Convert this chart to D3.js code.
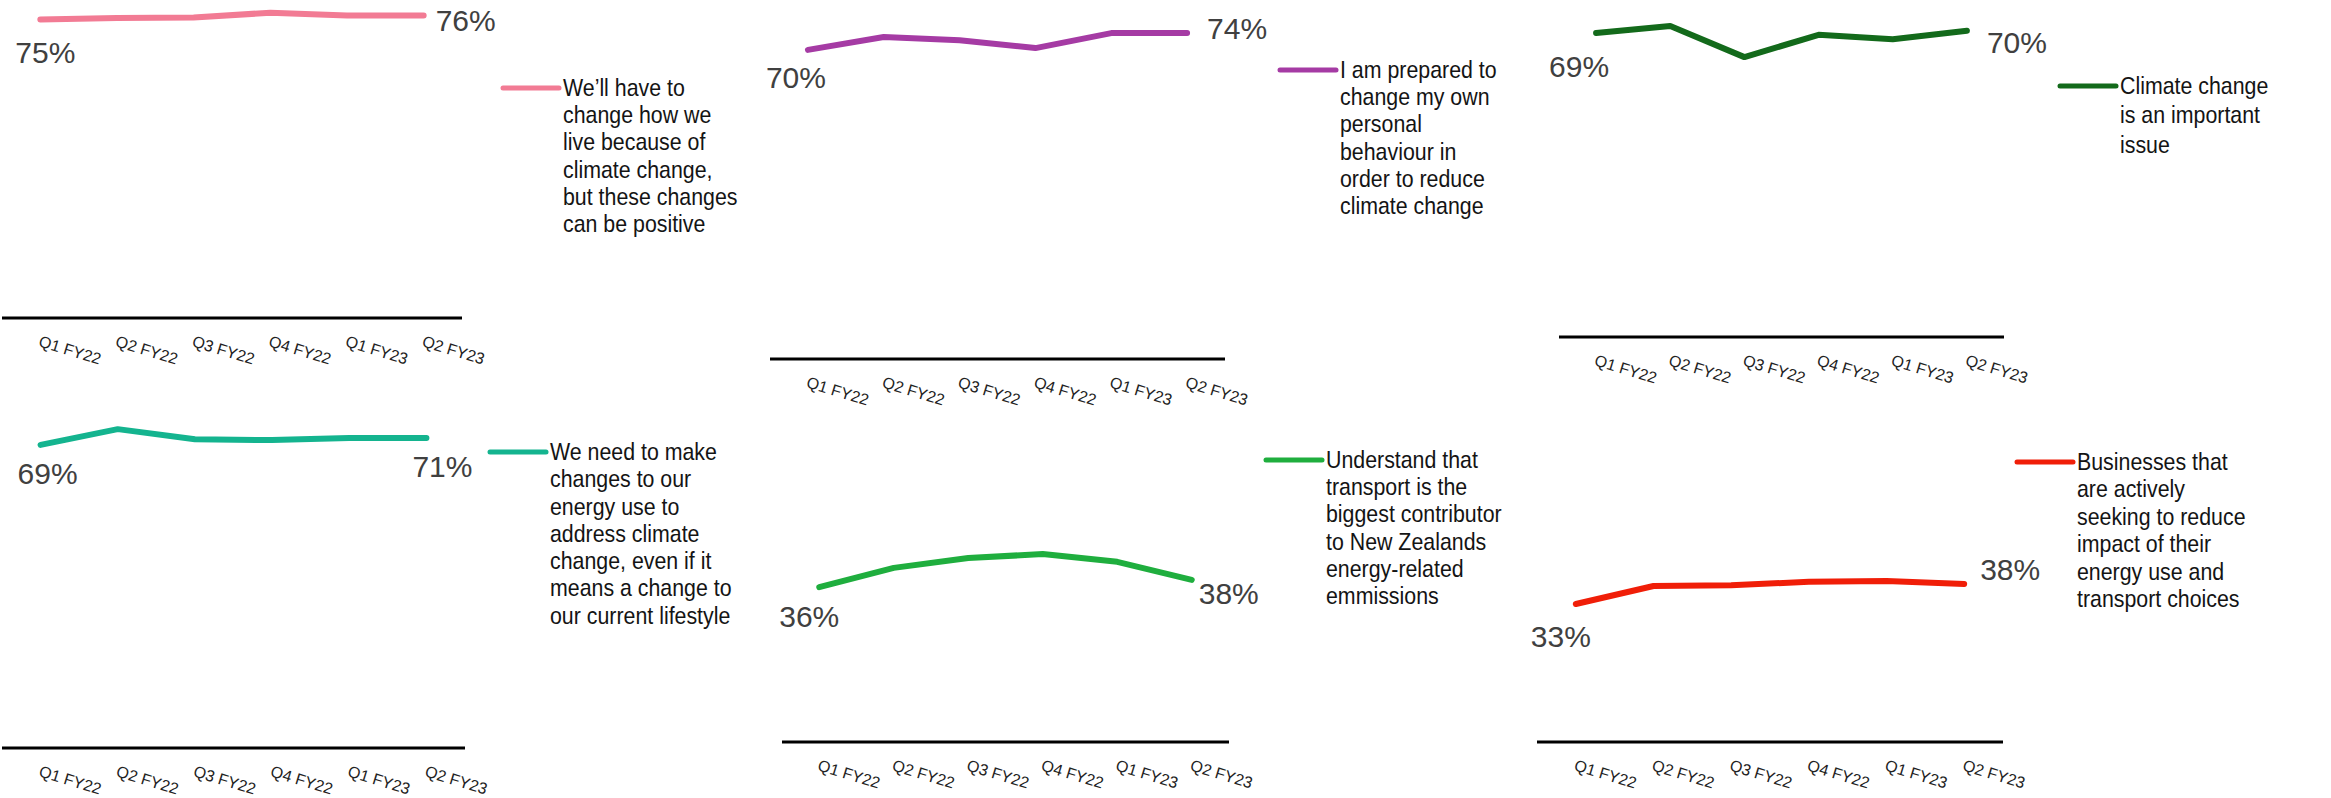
<!DOCTYPE html>
<html>
<head>
<meta charset="utf-8">
<script src="https://cdn.jsdelivr.net/npm/d3@7"></script>
<style>
  body { margin: 0; background: #fff; }
  svg { display: block; }
  .tick-label { font-family: "Liberation Sans", Arial, sans-serif; font-size: 16px; fill: #222; }
  .pct { font-family: "Liberation Sans", Arial, sans-serif; font-size: 30px; fill: #404040; }
  .legend-text { font-family: "Liberation Sans", Arial, sans-serif; font-size: 24px; fill: #141414; }
</style>
</head>
<body>
<div class="chart"></div>
<script>
// DATA ------------------------------------**
const quarters = ['Q1 FY22', 'Q2 FY22', 'Q3 FY22', 'Q4 FY22', 'Q1 FY23', 'Q2 FY23'];

const haveToChange = [75.0, 75.4, 75.5, 76.7, 76.0, 76.0];
const preparedToChange = [70.1, 73.0, 72.3, 70.5, 73.9, 73.9];
const importantIssue = [69.4, 71.0, 63.9, 69.0, 68.0, 69.9];
const energyUse = [69.2, 72.8, 70.5, 70.3, 70.8, 70.8];
const transportContributor = [36.0, 40.5, 42.8, 43.7, 41.9, 37.7];
const businessesReducing = [33.1, 37.4, 37.6, 38.4, 38.6, 37.9];

const legendLabels = [
  ['We\u2019ll have to', 'change how we', 'live because of', 'climate change,', 'but these changes', 'can be positive'],
  ['I am prepared to', 'change my own', 'personal', 'behaviour in', 'order to reduce', 'climate change'],
  ['Climate change', 'is an important', 'issue'],
  ['We need to make', 'changes to our', 'energy use to', 'address climate', 'change, even if it', 'means a change to', 'our current lifestyle'],
  ['Understand that', 'transport is the', 'biggest contributor', 'to New Zealands', 'energy-related', 'emmissions'],
  ['Businesses that', 'are actively', 'seeking to reduce', 'impact of their', 'energy use and', 'transport choices']
];

const seriesColors = ['#f27b94', '#a53ba4', '#136a1b', '#14b48f', '#1fae3e', '#f01e08'];
const seriesValues = [haveToChange, preparedToChange, importantIssue, energyUse, transportContributor, businessesReducing];

// LAYOUT (per small multiple) -------------**
const panels = [
  {x0: 2, x1: 462, axisY: 318, k: 3.98, start: [5, 43], end: [12, 15], lx: 503, ly: 88, lh: 27.2},
  {x0: 770, x1: 1225, axisY: 359, k: 4.41, start: [-12, 38], end: [20, 6], lx: 1280, ly: 70, lh: 27.2},
  {x0: 1559, x1: 2004, axisY: 337, k: 4.38, start: [-17, 44], end: [20, 22], lx: 2060, ly: 86, lh: 29.5},
  {x0: 2, x1: 465, axisY: 748, k: 4.38, start: [7, 39], end: [-14, 39], lx: 490, ly: 452, lh: 27.3},
  {x0: 782, x1: 1229, axisY: 742, k: 4.3, start: [-10, 40], end: [7, 24], lx: 1266, ly: 460, lh: 27.2},
  {x0: 1537, x1: 2003, axisY: 742, k: 4.17, start: [-15, 43], end: [16, -4], lx: 2017, ly: 462, lh: 27.4}
];

const width = 2331;
const height = 798;

const svg = d3.select('.chart').append('svg')
    .attr('width', width)
    .attr('height', height);

const fmt = d3.format('.0f');

panels.forEach(function(p, i) {
    const values = seriesValues[i];
    const color = seriesColors[i];
    const g = svg.append('g').attr('class', 'panel');

    let xScale = d3.scalePoint()
        .domain(quarters)
        .range([p.x0, p.x1])
        .padding(0.5);

    let yScale = d3.scaleLinear()
        .domain([0, 80])
        .range([p.axisY, p.axisY - 80 * p.k]);

    // axis line with rotated category labels
    let xAxis = d3.axisBottom(xScale).tickSize(0).tickPadding(0);
    let xAxisGroup = g.append('g')
        .attr('class', 'axis x-axis')
        .attr('transform', 'translate(0,' + p.axisY + ')')
        .call(xAxis);

    xAxisGroup.select('.domain')
        .attr('d', 'M' + p.x0 + ',0H' + p.x1)
        .attr('stroke', '#000')
        .attr('stroke-width', 3);

    xAxisGroup.selectAll('.tick text')
        .attr('class', 'tick-label')
        .attr('text-anchor', 'start')
        .attr('x', 0)
        .attr('y', 0)
        .attr('dy', null)
        .attr('transform', 'translate(-3,28) rotate(17)')
        .attr('fill', null)
        .attr('font-family', null)
        .attr('font-size', null);

    // series line
    const pts = quarters.map((q, j) => ({q: q, v: values[j]}));
    let line = d3.line()
        .x(d => xScale(d.q))
        .y(d => yScale(d.v));

    g.append('path')
        .datum(pts)
        .attr('fill', 'none')
        .attr('stroke', color)
        .attr('stroke-width', 6)
        .attr('stroke-linejoin', 'round')
        .attr('stroke-linecap', 'round')
        .attr('d', line);

    // first and last value labels
    const first = pts[0];
    const last = pts[pts.length - 1];
    g.append('text')
        .attr('class', 'pct')
        .attr('text-anchor', 'middle')
        .attr('x', xScale(first.q) + p.start[0])
        .attr('y', yScale(first.v) + p.start[1])
        .text(fmt(first.v) + '%');

    g.append('text')
        .attr('class', 'pct')
        .attr('text-anchor', 'start')
        .attr('x', xScale(last.q) + p.end[0])
        .attr('y', yScale(last.v) + p.end[1])
        .text(fmt(last.v) + '%');

    // legend
    g.append('line')
        .attr('x1', p.lx)
        .attr('x2', p.lx + 56)
        .attr('y1', p.ly)
        .attr('y2', p.ly)
        .attr('stroke', color)
        .attr('stroke-width', 5)
        .attr('stroke-linecap', 'round');

    // narrow-looking legend text: squeeze horizontally
    g.append('text')
        .attr('class', 'legend-text')
        .attr('transform', 'translate(' + (p.lx + 60) + ',' + (p.ly + 8) + ') scale(0.89,1)')
        .selectAll('tspan')
        .data(legendLabels[i])
        .join('tspan')
        .attr('x', 0)
        .attr('dy', (d, j) => j === 0 ? 0 : p.lh)
        .text(d => d);
});
</script>
</body>
</html>
